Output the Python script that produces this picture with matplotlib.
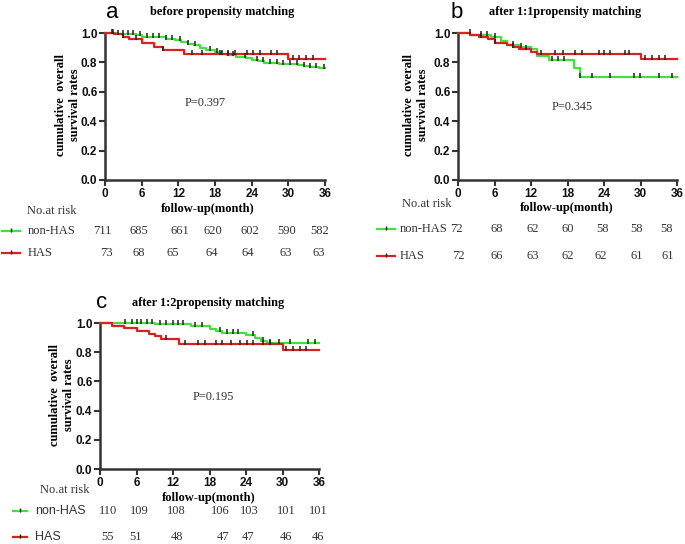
import matplotlib
matplotlib.use("Agg")
import matplotlib.pyplot as plt
from matplotlib.path import Path
from matplotlib.transforms import blended_transform_factory

# ---- data ----
months = [0, 6, 12, 18, 24, 30, 36]

# panel a: before propensity matching
a_non_t = [0, 2, 4, 5, 6, 8, 10, 11.5, 12.5, 13.5, 14.5, 15.5, 16.5, 18, 19, 20,
           21.5, 23, 24, 25, 26, 28.5, 30, 31.5, 32.5, 33.5, 35, 36]
a_non_s = [1.0, 0.995, 0.99, 0.983, 0.976, 0.97, 0.962, 0.952, 0.94, 0.928, 0.915,
           0.9, 0.885, 0.868, 0.858, 0.848, 0.838, 0.828, 0.818, 0.808, 0.798,
           0.792, 0.787, 0.781, 0.775, 0.768, 0.762, 0.762]
a_non_cens = [1.1, 2.2, 2.9, 3.8, 4.6, 5.7, 6.8, 7.9, 8.9, 10.0, 10.9, 12.3, 13.5,
              14.7, 17.2, 18.3, 19.2, 20.2, 21.0, 22.9, 24.8, 25.9, 27.0, 28.1,
              29.2, 30.3, 31.4, 32.5, 33.5, 34.6, 35.8]
a_has_t = [0, 1.5, 3, 4, 6, 8, 9.5, 13, 30, 36]
a_has_s = [1.0, 0.99, 0.975, 0.96, 0.932, 0.908, 0.882, 0.86, 0.826, 0.826]
a_has_cens = [1.3, 3.0, 5.0, 9.5, 14.2, 15.8, 18.8, 20.2, 21.3, 23.2, 24.2, 25.3,
              27.1, 28.1, 30.7, 31.8, 32.9, 34.0]
a_risk_non = [711, 685, 661, 620, 602, 590, 582]
a_risk_has = [73, 68, 65, 64, 64, 63, 63]

# panel b: after 1:1 matching
b_non_t = [0, 2, 5.5, 7, 8, 10, 12, 13, 15, 19, 20, 36]
b_non_s = [1.0, 0.986, 0.972, 0.944, 0.916, 0.902, 0.888, 0.846, 0.818, 0.762, 0.70, 0.70]
b_non_cens = [3.8, 4.7, 6.0, 9.0, 10.4, 15.5, 16.5, 17.5, 20.0, 22.0, 25.0, 29.0,
              29.9, 33.0, 35.1]
b_has_t = [0, 2, 3.5, 5, 6, 8, 9, 10, 12, 13, 30, 36]
b_has_s = [1.0, 0.986, 0.972, 0.958, 0.93, 0.916, 0.902, 0.888, 0.874, 0.86, 0.82, 0.82]
b_has_cens = [1.9, 3.8, 6.0, 9.0, 11.2, 13.7, 16.0, 17.3, 19.2, 20.4, 23.1, 24.0,
              25.0, 27.4, 28.1, 30.7, 31.9, 33.0, 34.1]
b_risk_non = [72, 68, 62, 60, 58, 58, 58]
b_risk_has = [72, 66, 63, 62, 62, 61, 61]

# panel c: after 1:2 matching
c_non_t = [0, 9, 15, 18, 19, 20, 24, 25.5, 26.5, 27.5, 36]
c_non_s = [1.0, 0.99, 0.98, 0.96, 0.945, 0.93, 0.915, 0.9, 0.88, 0.862, 0.862]
c_non_cens = [4.1, 5.2, 6.0, 6.8, 7.7, 8.5, 9.8, 10.9, 12.0, 12.9, 13.7, 15.6,
              16.7, 19.7, 20.8, 21.9, 22.7, 25.2, 26.8, 27.9, 29.5, 31.2, 34.2, 35.3]
c_has_t = [0, 2, 4, 6, 8, 9, 10, 13, 30, 36]
c_has_s = [1.0, 0.982, 0.964, 0.945, 0.927, 0.908, 0.887, 0.857, 0.815, 0.815]
c_has_cens = [10.9, 13.9, 16.1, 17.2, 19.1, 20.0, 21.6, 23.0, 24.1, 25.2, 26.8,
              27.9, 30.6, 31.7, 32.8, 33.9]
c_risk_non = [110, 109, 108, 106, 103, 101, 101]
c_risk_has = [55, 51, 48, 47, 47, 46, 46]

titles = ["before propensity matching", "after 1:1propensity matching",
          "after 1:2propensity matching"]
letters = ["a", "b", "c"]
pvals = ["P=0.397", "P=0.345", "P=0.195"]

# ---- layout (pixels of the 685x544 picture) ----
W, H = 685, 544
GREEN = "#44e040"
RED = "#dc2020"
SERIF = "Liberation Serif"
SANS = "Liberation Sans"

fig = plt.figure(figsize=(W / 100, H / 100), dpi=100)


def px(x, y):
    return x / W, 1 - y / H


# censor mark: a short stroke pointing up from the curve
cens_marker = Path([(0, -0.25), (0, 1)], [Path.MOVETO, Path.LINETO])

panels = [
    dict(box=(105, 33, 325, 180), non=(a_non_t, a_non_s, a_non_cens),
         has=(a_has_t, a_has_s, a_has_cens), risk=(a_risk_non, a_risk_has),
         rx_non=[-0.5, 5.6, 12.3, 17.7, 23.7, 29.8, 35.2],
         rx_has=[0.2, 5.6, 11.1, 17.5, 23.3, 29.6, 34.9],
         letter=(112, 12), title=(150, 12), ylab=(68, 105), p=(205, 103),
         xlab=(208, 209), nar=(27, 211), rows=(231, 253), leg=(2, 20), lab_x=28,
         lab_font=SERIF),
    dict(box=(458, 33, 677, 180), non=(b_non_t, b_non_s, b_non_cens),
         has=(b_has_t, b_has_s, b_has_cens), risk=(b_risk_non, b_risk_has),
         rx_non=[-0.2, 6.4, 12.3, 18.1, 23.7, 29.3, 34.2],
         rx_has=[0.0, 6.4, 12.3, 18.1, 23.4, 29.4, 34.4],
         letter=(457, 12), title=(489, 12), ylab=(416, 105), p=(572, 107),
         xlab=(567, 208), nar=(402, 204), rows=(229, 256), leg=(377, 395), lab_x=400,
         lab_font=SERIF),
    dict(box=(100, 323, 319, 469), non=(c_non_t, c_non_s, c_non_cens),
         has=(c_has_t, c_has_s, c_has_cens), risk=(c_risk_non, c_risk_has),
         rx_non=[1.3, 6.4, 12.6, 19.7, 24.5, 30.7, 35.9],
         rx_has=[1.3, 5.9, 12.6, 20.3, 24.4, 30.6, 35.9],
         letter=(102, 302), title=(132, 303), ylab=(62, 395), p=(213, 397),
         xlab=(209, 498), nar=(40, 490), rows=(511, 537), leg=(13, 27), lab_x=35,
         lab_font=SANS),
]

for i, pn in enumerate(panels):
    x0, y0, x1, y1 = pn["box"]
    l, b = px(x0, y1)
    r, t = px(x1, y0)
    ax = fig.add_axes([l, b, r - l, t - b])

    for (tt, ss, cc), col in [(pn["non"], GREEN), (pn["has"], RED)]:
        ax.step(tt, ss, where="post", color=col, lw=1.6, clip_on=False, zorder=3)
        # survival value at each censor time
        cy = []
        for c in cc:
            v = ss[0]
            for tk, sk in zip(tt, ss):
                if tk <= c:
                    v = sk
            cy.append(v)
        ax.plot(cc, cy, ls="none", marker=cens_marker, ms=6, mew=1.1,
                color="#222222", clip_on=False, zorder=4)

    ax.set_xlim(0, 36)
    ax.set_ylim(0, 1.0)
    ax.set_xticks(months)
    ax.set_yticks([0, 0.2, 0.4, 0.6, 0.8, 1.0])
    ax.set_yticklabels(["0.0", "0.2", "0.4", "0.6", "0.8", "1.0"])
    for s in ["top", "right"]:
        ax.spines[s].set_visible(False)
    for s in ["left", "bottom"]:
        ax.spines[s].set_linewidth(1.8)
        ax.spines[s].set_color("#333333")
    ax.tick_params(direction="out", length=4, width=1.5, color="#333333", pad=1.5)
    for lab in ax.get_xticklabels() + ax.get_yticklabels():
        lab.set_fontfamily(SANS)
        lab.set_fontweight("bold")
        lab.set_fontsize(8.5)
        lab.set_color("#111111")

    # titles and labels
    fig.text(*px(*pn["letter"]), letters[i], fontfamily=SANS, fontsize=16,
             ha="center", va="center")
    fig.text(*px(*pn["title"]), titles[i], fontfamily=SERIF, fontweight="bold",
             fontsize=8.8, ha="left", va="center")
    fig.text(*px(*pn["ylab"]), "cumulative  overall\nsurvival rates",
             fontfamily=SERIF, fontweight="bold", fontsize=9, rotation=90,
             ha="center", va="center", linespacing=1.15)
    fig.text(*px(*pn["p"]), pvals[i], fontfamily=SERIF, fontsize=8.8,
             ha="center", va="center", color="#333333")
    fig.text(*px(*pn["xlab"]), "follow-up(month)", fontfamily=SERIF,
             fontweight="bold", fontsize=9, ha="center", va="center")

    # number at risk table
    fig.text(*px(*pn["nar"]), "No.at risk", fontfamily=SERIF, fontsize=9,
             ha="left", va="center", color="#333333")
    trans = blended_transform_factory(ax.transData, fig.transFigure)
    names = ["non-HAS", "HAS"]
    cols = [GREEN, RED]
    xs = [pn["rx_non"], pn["rx_has"]]
    for k in range(2):
        ry = pn["rows"][k]
        lx0, lx1 = pn["leg"]
        fig.add_artist(plt.Line2D([lx0 / W, lx1 / W], [1 - ry / H] * 2,
                                  color=cols[k], lw=1.6))
        fig.add_artist(plt.Line2D([(lx0 + lx1) / 2 / W], [1 - ry / H], ls="none",
                                  marker=cens_marker, ms=5, mew=1.0, color="#222222"))
        fig.text(*px(pn["lab_x"], ry), names[k], fontfamily=pn["lab_font"],
                 fontsize=9, ha="left", va="center", color="#333333")
        for xv, n in zip(xs[k], pn["risk"][k]):
            ax.text(xv, 1 - ry / H, str(n), transform=trans, fontfamily=SERIF,
                    fontsize=9, ha="center", va="center", color="#333333",
                    clip_on=False)

fig.savefig("out.png", dpi=100)
